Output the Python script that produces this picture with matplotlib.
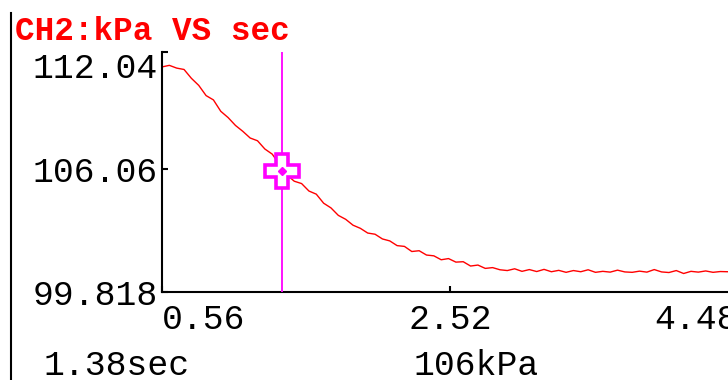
import matplotlib
matplotlib.use('Agg')
import matplotlib.pyplot as plt
from matplotlib.lines import Line2D

plt.rcParams['font.family'] = ['Liberation Mono', 'DejaVu Sans Mono']

# channel 2 pressure (kPa) against time (sec)
time_s = [0.56, 0.61, 0.66, 0.71, 0.76, 0.81, 0.86, 0.91, 0.96, 1.01,
          1.06, 1.11, 1.16, 1.21, 1.26, 1.31, 1.36, 1.41, 1.46, 1.51,
          1.56, 1.61, 1.66, 1.71, 1.76, 1.81, 1.86, 1.91, 1.96, 2.01,
          2.06, 2.11, 2.16, 2.21, 2.26, 2.31, 2.36, 2.41, 2.46, 2.51,
          2.56, 2.61, 2.66, 2.71, 2.76, 2.81, 2.86, 2.91, 2.96, 3.01,
          3.06, 3.11, 3.16, 3.21, 3.26, 3.31, 3.36, 3.41, 3.46, 3.51,
          3.56, 3.61, 3.66, 3.71, 3.76, 3.81, 3.86, 3.91, 3.96, 4.01,
          4.06, 4.11, 4.16, 4.21, 4.26, 4.31, 4.36, 4.41, 4.46]
pressure_kpa = [111.28, 111.36, 111.22, 111.15, 110.70, 110.34, 109.82, 109.60, 109.02, 108.70,
                108.30, 108.00, 107.66, 107.52, 107.10, 106.84, 106.32, 105.78, 105.46, 105.34,
                104.96, 104.80, 104.34, 104.10, 103.72, 103.52, 103.22, 103.06, 102.82, 102.76,
                102.52, 102.42, 102.18, 102.14, 101.88, 101.92, 101.70, 101.66, 101.46, 101.52,
                101.34, 101.36, 101.14, 101.19, 101.02, 101.06, 100.95, 100.91, 101.00, 100.87,
                100.96, 100.86, 100.97, 100.85, 100.92, 100.82, 100.91, 100.85, 100.95, 100.82,
                100.87, 100.83, 100.93, 100.84, 100.82, 100.88, 100.83, 100.96, 100.84, 100.81,
                100.91, 100.76, 100.87, 100.83, 100.89, 100.82, 100.86, 100.85, 100.84]

x_ticks = [0.56, 2.52, 4.48]
x_tick_labels = ['0.56', '2.52', '4.48']
y_ticks = [99.818, 106.06, 112.04]
y_tick_labels = ['99.818', '106.06', '112.04']

cursor_t = 1.38
cursor_p = 106.0

fig = plt.figure(figsize=(7.28, 3.8), dpi=100)
ax = fig.add_axes([162 / 728, 88 / 380, 576 / 728, 240 / 380])

ax.plot(time_s, pressure_kpa, color='#ff0000', lw=1.0, zorder=2)
ax.axvline(cursor_t, color='#ff00ff', lw=1.3, zorder=3)
ax.plot([cursor_t], [cursor_p], marker='P', ms=25, mfc='white', mec='#ff00ff', mew=2.6, zorder=4)
ax.plot([cursor_t], [cursor_p], marker='D', ms=4, color='#ff00ff', zorder=5)

ax.set_xlim(0.56, 4.48)
ax.set_ylim(99.818, 112.04)
ax.set_xticks(x_ticks, labels=x_tick_labels)
ax.set_yticks(y_ticks, labels=y_tick_labels)

for s in ['top', 'right']:
    ax.spines[s].set_visible(False)
for s in ['left', 'bottom']:
    ax.spines[s].set_linewidth(1.5)
    ax.spines[s].set_color('black')

ax.tick_params(direction='in', length=4, width=1.5, labelsize=25, colors='black')
ax.tick_params(axis='x', pad=8)
ax.tick_params(axis='y', pad=3)

xt = ax.xaxis.get_major_ticks()
xt[0].label1.set_ha('left')
xt[-1].label1.set_ha('right')
yt = ax.yaxis.get_major_ticks()
yt[-1].label1.set_va('top')

# title and cursor readout
fig.text(15 / 728, 1 - 40 / 380, 'CH2:kPa VS sec', color='#ff0000',
         fontsize=23.5, fontweight='bold', va='baseline')
fig.text(43 / 728, 1 - 375 / 380, f'{cursor_t:.2f}sec', fontsize=25, va='baseline')
fig.text(413 / 728, 1 - 375 / 380, f'{cursor_p:.0f}kPa', fontsize=25, va='baseline')

fig.add_artist(Line2D([11 / 728, 11 / 728], [0, 1 - 13 / 380],
                      transform=fig.transFigure, color='black', lw=1.5))

fig.savefig('out.png', dpi=100)
